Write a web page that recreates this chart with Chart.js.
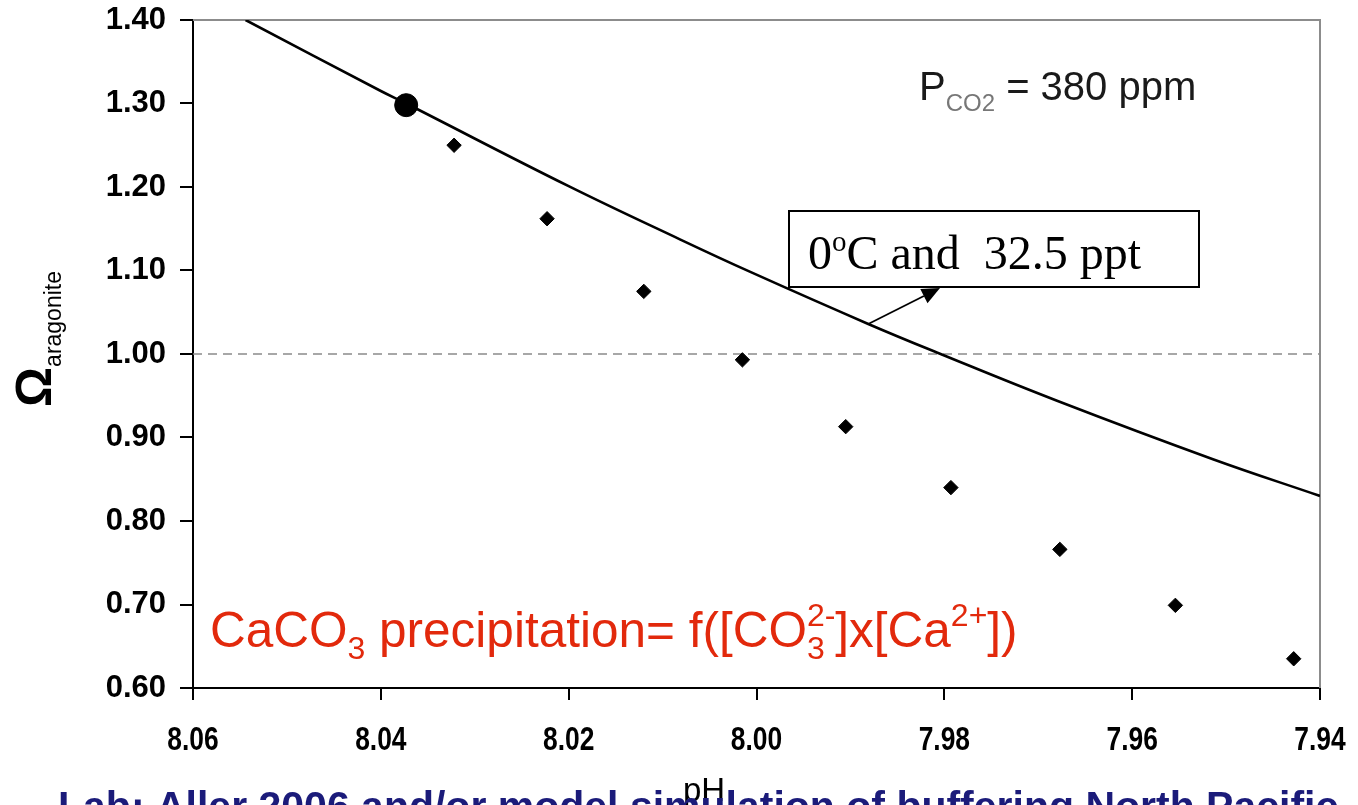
<!DOCTYPE html>
<html>
<head>
<meta charset="utf-8">
<title>Omega aragonite vs pH</title>
<script src="https://cdn.jsdelivr.net/npm/chart.js@4/dist/chart.umd.min.js"></script>
<style>
  html, body { margin: 0; padding: 0; background: #fff; overflow: hidden; }
  #wrap { position: relative; width: 1358px; height: 805px; }
</style>
</head>
<body>
<div id="wrap"><canvas id="c" width="1358" height="805"></canvas></div>
<script>
// Axis ticks
const phTicks = [8.06, 8.04, 8.02, 8.00, 7.98, 7.96, 7.94];
const omegaTicks = [0.60, 0.70, 0.80, 0.90, 1.00, 1.10, 1.20, 1.30, 1.40];

// Model curve at 0 °C, 32.5 ppt, pCO2 = 380 ppm
const curvePh    = [8.0544, 8.0400, 8.0373, 8.0200, 8.0081, 8.0006, 7.9881, 7.9804, 7.9680, 7.9514, 7.9400];
const curveOmega = [1.400, 1.315, 1.300, 1.201, 1.137, 1.098, 1.036, 1.000, 0.944, 0.874, 0.830];

// Individual points (diamonds)
const pointPh    = [8.0322, 8.0223, 8.0120, 8.0015, 7.9905, 7.9793, 7.9677, 7.9554, 7.9428];
const pointOmega = [1.250, 1.162, 1.075, 0.993, 0.913, 0.840, 0.766, 0.699, 0.635];

// Present-day marker (large dot)
const presentPh    = [8.0373];
const presentOmega = [1.298];

// Saturation horizon
const saturationOmega = 1.00;

const toXY = (xs, ys) => xs.map((v, i) => ({ x: v, y: ys[i] }));

const SANS = '"Liberation Sans", Arial, sans-serif';
const SERIF = '"Liberation Serif", "Times New Roman", serif';

// Draws a run of text pieces (sub/superscripts) left to right
function richText(ctx, x, y, parts, family) {
  let held = 0;
  ctx.textBaseline = 'alphabetic';
  ctx.textAlign = 'left';
  for (const p of parts) {
    ctx.font = `${p.w || 'normal'} ${p.s}px ${family}`;
    ctx.fillStyle = p.c;
    ctx.fillText(p.t, x, y + (p.dy || 0));
    const w = ctx.measureText(p.t).width;
    if (p.hold) { held = w; continue; }
    x += Math.max(w, held);
    held = 0;
  }
  return x;
}

const decorations = {
  id: 'decorations',
  beforeDatasetsDraw(chart) {
    const { ctx, chartArea: a } = chart;
    ctx.save();
    ctx.strokeStyle = '#8c8c8c';
    ctx.lineWidth = 2;
    ctx.beginPath();
    ctx.moveTo(a.left, a.top);
    ctx.lineTo(a.right, a.top);
    ctx.lineTo(a.right, a.bottom);
    ctx.stroke();
    ctx.restore();
  },
  afterDraw(chart) {
    const { ctx, scales: { x, y } } = chart;
    ctx.save();

    // X tick labels in a condensed bold face
    ctx.font = `bold 33px ${SANS}`;
    ctx.fillStyle = '#000';
    ctx.textAlign = 'center';
    ctx.textBaseline = 'alphabetic';
    for (const v of phTicks) {
      ctx.save();
      ctx.translate(x.getPixelForValue(v), 750);
      ctx.scale(0.8, 1);
      ctx.fillText(v.toFixed(2), 0, 0);
      ctx.restore();
    }

    // Y-axis title: Omega with subscript "aragonite", rotated
    ctx.save();
    ctx.translate(51, 407);
    ctx.rotate(-Math.PI / 2);
    richText(ctx, 0, 0, [
      { t: 'Ω', s: 50, w: 'bold', c: '#000' },
      { t: 'aragonite', s: 23, c: '#000', dy: 10 }
    ], SANS);
    ctx.restore();

    // pCO2 note
    richText(ctx, 919, 100, [
      { t: 'P', s: 40, c: '#1a1a1a' },
      { t: 'CO2', s: 24, c: '#777', dy: 11 },
      { t: ' = 380 ppm', s: 40, c: '#1a1a1a' }
    ], SANS);

    // Curve label box with arrow
    const bx = 789, by = 211, bw = 410, bh = 76;
    ctx.fillStyle = '#fff';
    ctx.fillRect(bx, by, bw, bh);
    ctx.strokeStyle = '#000';
    ctx.lineWidth = 2;
    ctx.strokeRect(bx, by, bw, bh);
    richText(ctx, 808, 269, [
      { t: '0', s: 48, c: '#000' },
      { t: 'o', s: 29, c: '#000', dy: -18 },
      { t: 'C and  32.5 ppt', s: 48, c: '#000' }
    ], SERIF);

    const sx = x.getPixelForValue(curvePh[6]);
    const sy = y.getPixelForValue(curveOmega[6]);
    const tx = 940, ty = by + bh + 1;
    const ang = Math.atan2(ty - sy, tx - sx);
    const hl = 18, hw = 8;
    const bxh = tx - hl * Math.cos(ang), byh = ty - hl * Math.sin(ang);
    ctx.beginPath();
    ctx.moveTo(sx, sy);
    ctx.lineTo(bxh, byh);
    ctx.lineWidth = 1.8;
    ctx.stroke();
    ctx.beginPath();
    ctx.moveTo(tx, ty);
    ctx.lineTo(bxh + hw * Math.sin(ang), byh - hw * Math.cos(ang));
    ctx.lineTo(bxh - hw * Math.sin(ang), byh + hw * Math.cos(ang));
    ctx.closePath();
    ctx.fillStyle = '#000';
    ctx.fill();

    // Precipitation relation, in red
    const red = '#e2290c';
    richText(ctx, 210, 647, [
      { t: 'CaCO', s: 49.5, c: red },
      { t: '3', s: 32, c: red, dy: 12 },
      { t: ' precipitation= f([CO', s: 49.5, c: red },
      { t: '3', s: 32, c: red, dy: 12, hold: true },
      { t: '2-', s: 32, c: red, dy: -21 },
      { t: ']x[Ca', s: 49.5, c: red },
      { t: '2+', s: 32, c: red, dy: -21 },
      { t: '])', s: 49.5, c: red }
    ], SANS);

    // X-axis title
    ctx.font = `normal 33px ${SANS}`;
    ctx.fillStyle = '#000';
    ctx.textAlign = 'left';
    ctx.fillText('pH', 683, 801);

    // Caption line along the bottom edge
    ctx.font = `bold 41px ${SANS}`;
    ctx.fillStyle = '#1b1b7a';
    ctx.fillText('Lab: Aller 2006 and/or model simulation of buffering North Pacific', 58, 820);

    ctx.restore();
  }
};

new Chart(document.getElementById('c'), {
  type: 'scatter',
  data: {
    datasets: [
      {
        label: 'Present',
        data: toXY(presentPh, presentOmega),
        pointStyle: 'circle',
        pointRadius: 11.5,
        backgroundColor: '#000',
        borderColor: '#000',
        order: 1
      },
      {
        label: 'Points',
        data: toXY(pointPh, pointOmega),
        pointStyle: 'rectRot',
        pointRadius: 7.2,
        backgroundColor: '#000',
        borderColor: '#000',
        borderWidth: 1,
        order: 2
      },
      {
        label: '0 °C and 32.5 ppt',
        data: toXY(curvePh, curveOmega),
        showLine: true,
        pointRadius: 0,
        borderColor: '#000',
        borderWidth: 2.6,
        tension: 0.4,
        order: 3
      },
      {
        label: 'Saturation',
        data: toXY([8.06, 7.94], [saturationOmega, saturationOmega]),
        showLine: true,
        pointRadius: 0,
        borderColor: '#8a8a8a',
        borderWidth: 1.6,
        borderDash: [9, 6],
        order: 4
      }
    ]
  },
  options: {
    responsive: false,
    animation: false,
    devicePixelRatio: 1,
    layout: { padding: { left: 0, top: 20, right: 38, bottom: 0 } },
    plugins: { legend: { display: false }, tooltip: { enabled: false } },
    scales: {
      x: {
        type: 'linear',
        reverse: true,
        min: 7.94,
        max: 8.06,
        afterBuildTicks: s => { s.ticks = phTicks.map(v => ({ value: v })); },
        afterFit: s => { s.height = 117; s.paddingLeft = 0; s.paddingRight = 0; },
        ticks: { display: false },
        grid: { drawOnChartArea: false, drawTicks: true, color: '#000', lineWidth: 2, tickLength: 12 },
        border: { color: '#000', width: 2 }
      },
      y: {
        type: 'linear',
        min: 0.6,
        max: 1.4,
        afterBuildTicks: s => { s.ticks = omegaTicks.map(v => ({ value: v })); },
        afterFit: s => { s.width = 193; s.paddingTop = 0; s.paddingBottom = 0; },
        ticks: {
          callback: v => v.toFixed(2),
          font: { family: SANS, size: 31, weight: 'bold' },
          color: '#000',
          padding: 14,
          autoSkip: false
        },
        grid: { drawOnChartArea: false, color: '#000', lineWidth: 2, tickLength: 13 },
        border: { color: '#000', width: 2 }
      }
    }
  },
  plugins: [decorations]
});
</script>
</body>
</html>
